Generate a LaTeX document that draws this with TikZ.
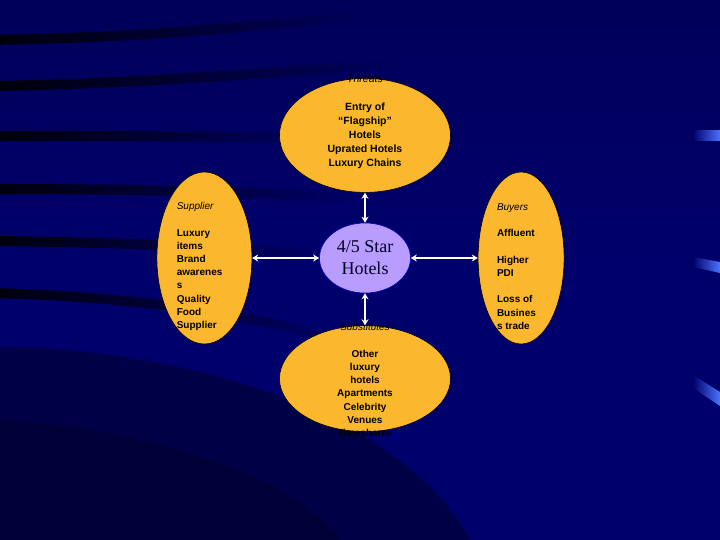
\documentclass[tikz,border=0pt]{standalone}
\usepackage{fontspec}
\setmainfont{Liberation Serif}
\setsansfont{Liberation Sans}
\usetikzlibrary{arrows.meta, shapes.geometric, positioning, fadings}

\definecolor{slidebg}{HTML}{00006C}
\definecolor{slidetop}{HTML}{00005A}
\definecolor{forceorange}{HTML}{FBB82E}
\definecolor{corelilac}{HTML}{B89CFF}
\definecolor{streakblue}{HTML}{4A74FF}
\newcommand{\forcetitle}{\mdseries\itshape}

\begin{document}
\begin{tikzpicture}[
    x=1pt, y=-1pt,
    force/.style={
        ellipse,
        inner sep=0pt,
        fill=forceorange,
        draw=black,
        line width=0.6pt
    },
    core/.style={
        ellipse,
        inner sep=0pt,
        minimum width=91pt,
        minimum height=70pt,
        fill=corelilac,
        draw=blue!75!black,
        line width=0.6pt,
        align=center,
        text=black!85!blue,
        font=\fontsize{18}{22}\selectfont
    },
    forcetext/.style={
        inner sep=0pt,
        text=black,
        font=\sffamily\bfseries\fontsize{10}{13.2}\selectfont
    },
    arrow/.style={white, line width=1.6pt,
        {Stealth[length=6pt,width=7pt]}-{Stealth[length=6pt,width=7pt]}},
    stripe/.style={black, opacity=0.9, line width=10pt, path fading=east}
]

% Background
\useasboundingbox (0,0) rectangle (720,540);
\shade[top color=slidetop, bottom color=slidebg, middle color=slidebg] (0,0) rectangle (720,540);
\draw[stripe] (-10,40) .. controls (120,38) and (220,30) .. (360,16);
\draw[stripe] (-10,86) .. controls (120,84) and (230,76) .. (390,64);
\draw[stripe] (-10,136) .. controls (100,136) and (220,136) .. (330,138);
\draw[stripe] (-10,189) .. controls (100,189) and (240,191) .. (350,197);
\draw[stripe] (-10,241) .. controls (100,242) and (220,246) .. (330,256);
\draw[stripe] (-10,293) .. controls (120,296) and (240,310) .. (360,346);
\fill[black, opacity=0.35] (0,347) .. controls (180,348) and (400,410) .. (470,540) -- (0,540) -- cycle;
\fill[black, opacity=0.2] (0,420) .. controls (150,428) and (300,480) .. (340,540) -- (0,540) -- cycle;
\shade[left color=slidebg, right color=streakblue] (693,131) rectangle (720,141);
\shade[left color=slidebg, right color=streakblue] (693,257) -- (720,262) -- (720,273) -- (693,267) -- cycle;
\shade[left color=slidebg, right color=streakblue] (693,375) -- (720,392) -- (720,406) -- (693,388) -- cycle;

% Forces
\node (hotels) [core] at (365,258) {4/5 Star\\Hotels};

\node (threats)     [force, minimum width=171pt, minimum height=114pt, above=30pt of hotels] {};
\node (supplier)    [force, minimum width=95pt, minimum height=172pt, left=67pt of hotels] {};
\node (buyers)      [force, minimum width=86pt, minimum height=172pt, right=67pt of hotels] {};
\node (substitutes) [force, minimum width=171pt, minimum height=106pt, below=32pt of hotels] {};

% Texts
\node (threatstext) [forcetext, align=center, yshift=14pt,
    font=\sffamily\bfseries\fontsize{10.5}{14}\selectfont] at (threats)
    {{\forcetitle Threats}\\[14pt]Entry of\\``Flagship''\\Hotels\\Uprated Hotels\\Luxury Chains};

\node (suppliertext) [forcetext, align=left, anchor=west, xshift=20pt, yshift=-8.5pt] at (supplier.west)
    {{\forcetitle Supplier}\\[13.2pt]Luxury\\items\\Brand\\awarenes\\s\\Quality\\Food\\Supplier};

\node (buyerstext) [forcetext, align=left, anchor=west, xshift=19pt, yshift=-8.5pt] at (buyers.west)
    {{\forcetitle Buyers}\\[13.2pt]Affluent\\[13.2pt]Higher\\PDI\\[13.2pt]Loss of\\Busines\\s trade};

\node (substitutestext) [forcetext, align=center, yshift=-1.5pt] at (substitutes)
    {{\forcetitle Substitutes}\\[13.2pt]Other\\luxury\\hotels\\Apartments\\Celebrity\\Venues\\Timeshares};

% Arrows
\draw[arrow] (threats) -- (hotels);
\draw[arrow] (supplier) -- (hotels);
\draw[arrow] (buyers) -- (hotels);
\draw[arrow] (substitutes) -- (hotels);

\end{tikzpicture}
\end{document}
